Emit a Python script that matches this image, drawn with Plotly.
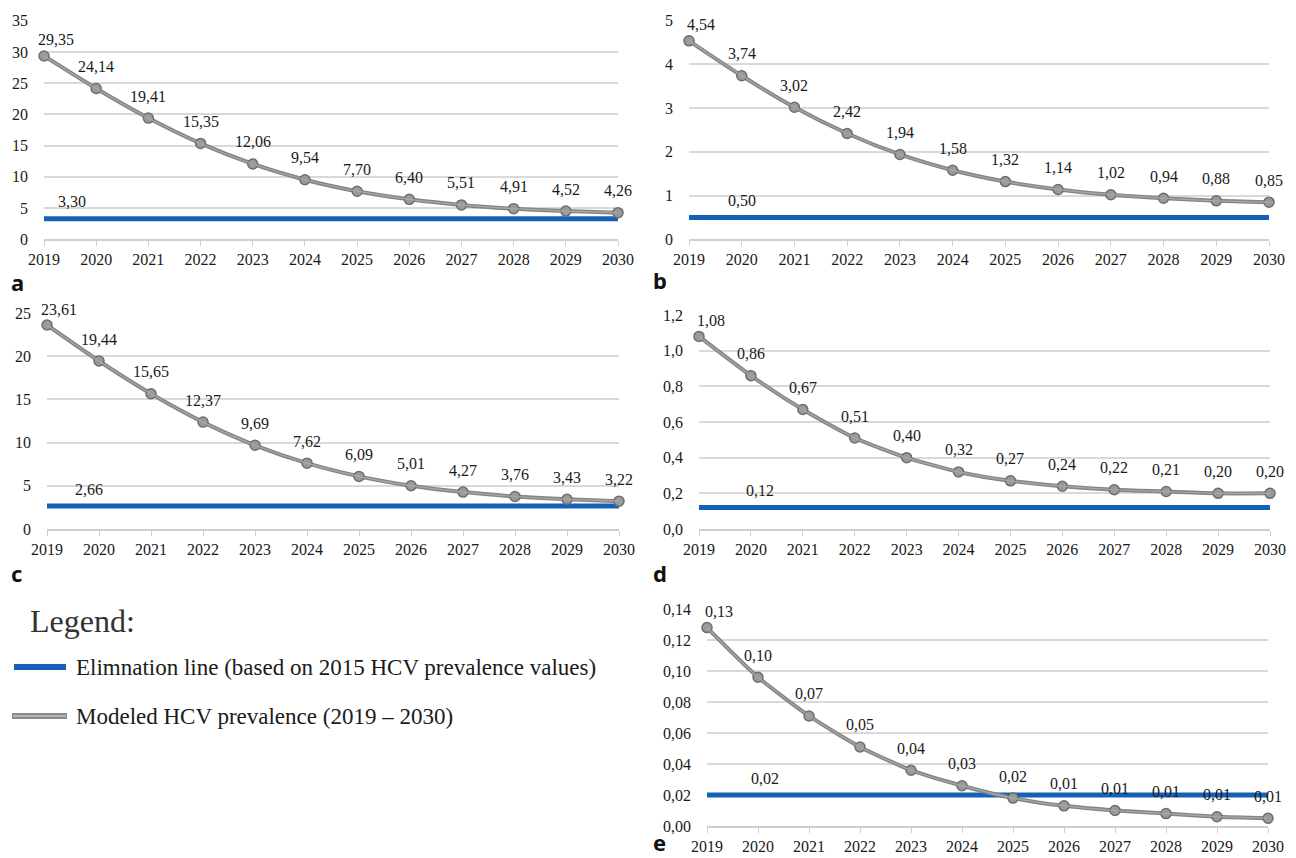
import plotly.graph_objects as go

W, H = 1296, 858

years = list(range(2019, 2031))

prev_a = [29.35, 24.14, 19.41, 15.35, 12.06, 9.54, 7.70, 6.40, 5.51, 4.91, 4.52, 4.26]
prev_b = [4.54, 3.74, 3.02, 2.42, 1.94, 1.58, 1.32, 1.14, 1.02, 0.94, 0.88, 0.85]
prev_c = [23.61, 19.44, 15.65, 12.37, 9.69, 7.62, 6.09, 5.01, 4.27, 3.76, 3.43, 3.22]
prev_d = [1.08, 0.86, 0.67, 0.51, 0.40, 0.32, 0.27, 0.24, 0.22, 0.21, 0.20, 0.20]
prev_e = [0.128, 0.096, 0.071, 0.051, 0.036, 0.026, 0.018, 0.013, 0.010, 0.008, 0.006, 0.005]

elim_a = 3.30
elim_b = 0.50
elim_c = 2.66
elim_d = 0.12
elim_e = 0.02

panel_letters = ["a", "b", "c", "d", "e"]
y_max = [35, 5, 25, 1.2, 0.14]
y_step = [5, 1, 5, 0.2, 0.02]
y_fmt = ["d", "d", "d", ".1f", ".2f"]

legend_title = "Legend:"
legend_elim = "Elimnation line (based on 2015 HCV prevalence values)"
legend_model = "Modeled HCV prevalence (2019 – 2030)"

series = [prev_a, prev_b, prev_c, prev_d, prev_e]
elims = [elim_a, elim_b, elim_c, elim_d, elim_e]

# pixel layout of each panel: x of 2019, x of 2030, y of top, y of bottom
boxes = [
    (44, 618, 20.7, 239.3),
    (689, 1269, 20.7, 239.3),
    (47, 619, 313, 529),
    (699, 1270, 315, 529),
    (707, 1268, 609, 826),
]
letter_pos = [(9, 282), (651, 280), (9, 573), (651, 573), (651, 842)]
elim_label_dx = [-24, 0, -10, 9, 7]

SERIF = "Liberation Serif, Times New Roman, serif"
BLUE = "#1462b8"
GRAY = "#858585"

def fmt(v):
    return f"{v:.2f}".replace(".", ",")

fig = go.Figure()
annotations = []

for i in range(5):
    n = "" if i == 0 else str(i + 1)
    xa, ya = "x" + n, "y" + n
    x0, x1, yt, yb = boxes[i]
    fig.add_trace(go.Scatter(
        x=years, y=[elims[i]] * len(years), xaxis=xa, yaxis=ya, mode="lines",
        line=dict(color=BLUE, width=5), showlegend=False, cliponaxis=False,
        hoverinfo="skip"))
    fig.add_trace(go.Scatter(
        x=years, y=series[i], xaxis=xa, yaxis=ya, mode="lines+markers",
        line=dict(color=GRAY, width=4, shape="spline", smoothing=0.6),
        marker=dict(size=10, color="#9a9a9a", line=dict(color="#6e6e6e", width=1.5)),
        showlegend=False, cliponaxis=False))
    fig.add_trace(go.Scatter(
        x=years, y=series[i], xaxis=xa, yaxis=ya, mode="lines",
        line=dict(color="#a8a8a8", width=1.2, shape="spline", smoothing=0.6),
        showlegend=False, cliponaxis=False, hoverinfo="skip"))
    for j, (yr, v) in enumerate(zip(years, series[i])):
        annotations.append(dict(
            x=yr, y=v, xref=xa, yref=ya, text=fmt(v), showarrow=False,
            xshift=12 if j == 0 else 0, yshift=16 if j == 0 else 22,
            font=dict(family=SERIF, size=16, color="#1a1a1a")))
    annotations.append(dict(
        x=2020, y=elims[i], xref=xa, yref=ya, text=fmt(elims[i]), showarrow=False,
        xshift=elim_label_dx[i], yshift=17,
        font=dict(family=SERIF, size=16, color="#1a1a1a")))
    lx, ly = letter_pos[i]
    annotations.append(dict(
        x=lx / W, y=1 - ly / H, xref="paper", yref="paper", xanchor="left",
        yanchor="middle", text="<b>" + panel_letters[i] + "</b>", showarrow=False,
        font=dict(family="Noto Sans, DejaVu Sans, sans-serif", size=22, color="#111")))

    fig.update_layout(**{
        "xaxis" + n: dict(
            domain=[x0 / W, x1 / W], anchor=ya, range=[2019, 2030], automargin=False,
            tickvals=years, ticktext=[str(y) for y in years],
            showgrid=False, zeroline=False, showline=True, linecolor="#cfcfcf",
            linewidth=1.5, ticks="outside", ticklen=5, tickcolor="#cfcfcf",
            tickfont=dict(family=SERIF, size=16, color="#1a1a1a"),
            ticklabelstandoff=0, fixedrange=True),
        "yaxis" + n: dict(
            domain=[1 - yb / H, 1 - yt / H], anchor=xa, range=[0, y_max[i]],
            automargin=False,
            dtick=y_step[i], tick0=0, tickformat=y_fmt[i],
            showgrid=True, gridcolor="#d9d9d9", gridwidth=1.5, zeroline=False,
            showline=False, ticks="", ticklabelstandoff=15,
            tickfont=dict(family=SERIF, size=16, color="#1a1a1a"), fixedrange=True),
    })

# legend block
annotations.append(dict(
    x=28 / W, y=1 - 621 / H, xref="paper", yref="paper", xanchor="left", yanchor="middle",
    text=legend_title, showarrow=False, font=dict(family=SERIF, size=32, color="#333")))
annotations.append(dict(
    x=74 / W, y=1 - 667 / H, xref="paper", yref="paper", xanchor="left", yanchor="middle",
    text=legend_elim, showarrow=False, font=dict(family=SERIF, size=23, color="#1a1a1a")))
annotations.append(dict(
    x=74 / W, y=1 - 716 / H, xref="paper", yref="paper", xanchor="left", yanchor="middle",
    text=legend_model, showarrow=False, font=dict(family=SERIF, size=23, color="#1a1a1a")))

shapes = [
    dict(type="line", xref="paper", yref="paper", x0=14 / W, x1=66 / W,
         y0=1 - 667 / H, y1=1 - 667 / H, line=dict(color=BLUE, width=6)),
    dict(type="line", xref="paper", yref="paper", x0=12 / W, x1=67 / W,
         y0=1 - 716 / H, y1=1 - 716 / H, line=dict(color="#8a8a8a", width=6)),
    dict(type="line", xref="paper", yref="paper", x0=13 / W, x1=66 / W,
         y0=1 - 716 / H, y1=1 - 716 / H, line=dict(color="#b5b5b5", width=2)),
]

fig.update_layout(
    width=W, height=H, margin=dict(l=0, r=0, t=0, b=0, autoexpand=False),
    paper_bgcolor="white", plot_bgcolor="white",
    font=dict(family=SERIF, size=16, color="#1a1a1a"),
    separators=", ", annotations=annotations, shapes=shapes,
    showlegend=False, hovermode=False,
)

fig.write_html(
    "out.html",
    config={"displayModeBar": False},
    post_script="document.body.style.margin='0';document.body.style.overflow='hidden';",
)
